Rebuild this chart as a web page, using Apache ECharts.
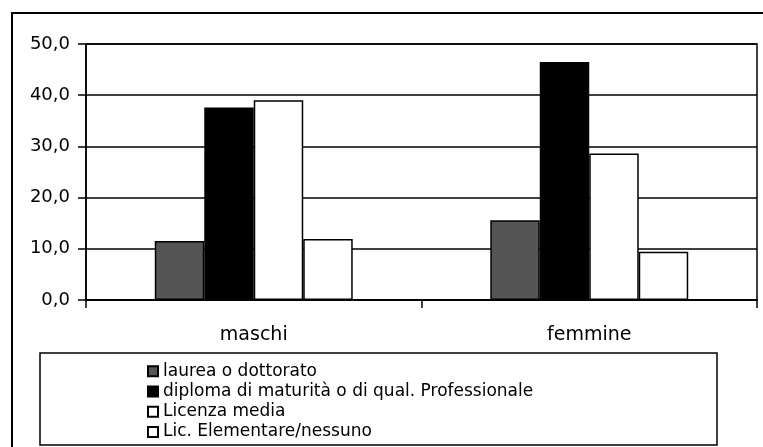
<!DOCTYPE html>
<html>
<head>
<meta charset="utf-8">
<script src="https://cdn.jsdelivr.net/npm/echarts@6/dist/echarts.min.js"></script>
<style>
  html, body { margin: 0; padding: 0; background: #fff; }
  #chart { width: 763px; height: 447px; }
</style>
</head>
<body>
<div id="chart"></div>
<script>
// categorie e valori (%)
const categories = ['maschi', 'femmine']
const seriesNames = [
  'laurea o dottorato',
  'diploma di maturità o di qual. Professionale',
  'Licenza media',
  'Lic. Elementare/nessuno'
]
const laurea = [11.5, 15.6]
const diploma = [37.6, 46.5]
const licenzaMedia = [39.0, 28.6]
const elementare = [11.9, 9.4]
const yTicks = [0, 10, 20, 30, 40, 50]

const fills = ['#555555', '#000000', '#ffffff', '#ffffff']
const font = '"DejaVu Sans", Arial, sans-serif'

const chart = echarts.init(document.getElementById('chart'))

const dataList = [laurea, diploma, licenzaMedia, elementare]

const option = {
  animation: false,
  backgroundColor: '#fff',
  graphic: [
    {
      // cornice esterna
      type: 'rect',
      shape: { x: 12, y: 13, width: 800, height: 500 },
      style: { fill: 'none', stroke: '#000', lineWidth: 2 },
      z: 0
    },
    {
      // riquadro legenda
      type: 'rect',
      shape: { x: 40, y: 353, width: 677, height: 92 },
      style: { fill: '#fff', stroke: '#000', lineWidth: 1.5 },
      z: 0
    }
  ],
  legend: {
    orient: 'vertical',
    left: 147,
    top: 361,
    padding: 0,
    height: 86,
    itemWidth: 10,
    itemHeight: 10,
    itemGap: 0,
    icon: 'rect',
    textStyle: {
      fontFamily: font,
      fontSize: 17,
      lineHeight: 20.3,
      color: '#000'
    },
    data: seriesNames
  },
  grid: {
    left: 86,
    right: 6,
    top: 44,
    bottom: 147,
    show: true,
    borderColor: '#000',
    borderWidth: 1.5,
    backgroundColor: '#fff'
  },
  xAxis: {
    type: 'category',
    data: categories,
    axisLine: { lineStyle: { color: '#000', width: 1.5 } },
    axisTick: { show: true, length: 8, lineStyle: { color: '#000', width: 1.5 } },
    axisLabel: { fontFamily: font, fontSize: 19, color: '#000', margin: 26 }
  },
  yAxis: {
    type: 'value',
    min: yTicks[0],
    max: yTicks[yTicks.length - 1],
    interval: 10,
    axisLine: { show: true, lineStyle: { color: '#000', width: 1.5 } },
    axisTick: { show: true, length: 8, lineStyle: { color: '#000', width: 1.5 } },
    splitLine: { lineStyle: { color: '#000', width: 1.5 } },
    axisLabel: {
      fontFamily: font,
      fontSize: 18,
      color: '#000',
      margin: 16,
      formatter: v => v.toFixed(1).replace('.', ',')
    }
  },
  series: seriesNames.map((name, i) => ({
    name: name,
    type: 'bar',
    data: dataList[i],
    barGap: '0%',
    barCategoryGap: '41%',
    itemStyle: {
      color: fills[i],
      borderColor: '#000',
      borderWidth: 1.5
    }
  }))
}

chart.setOption(option)
</script>
</body>
</html>
